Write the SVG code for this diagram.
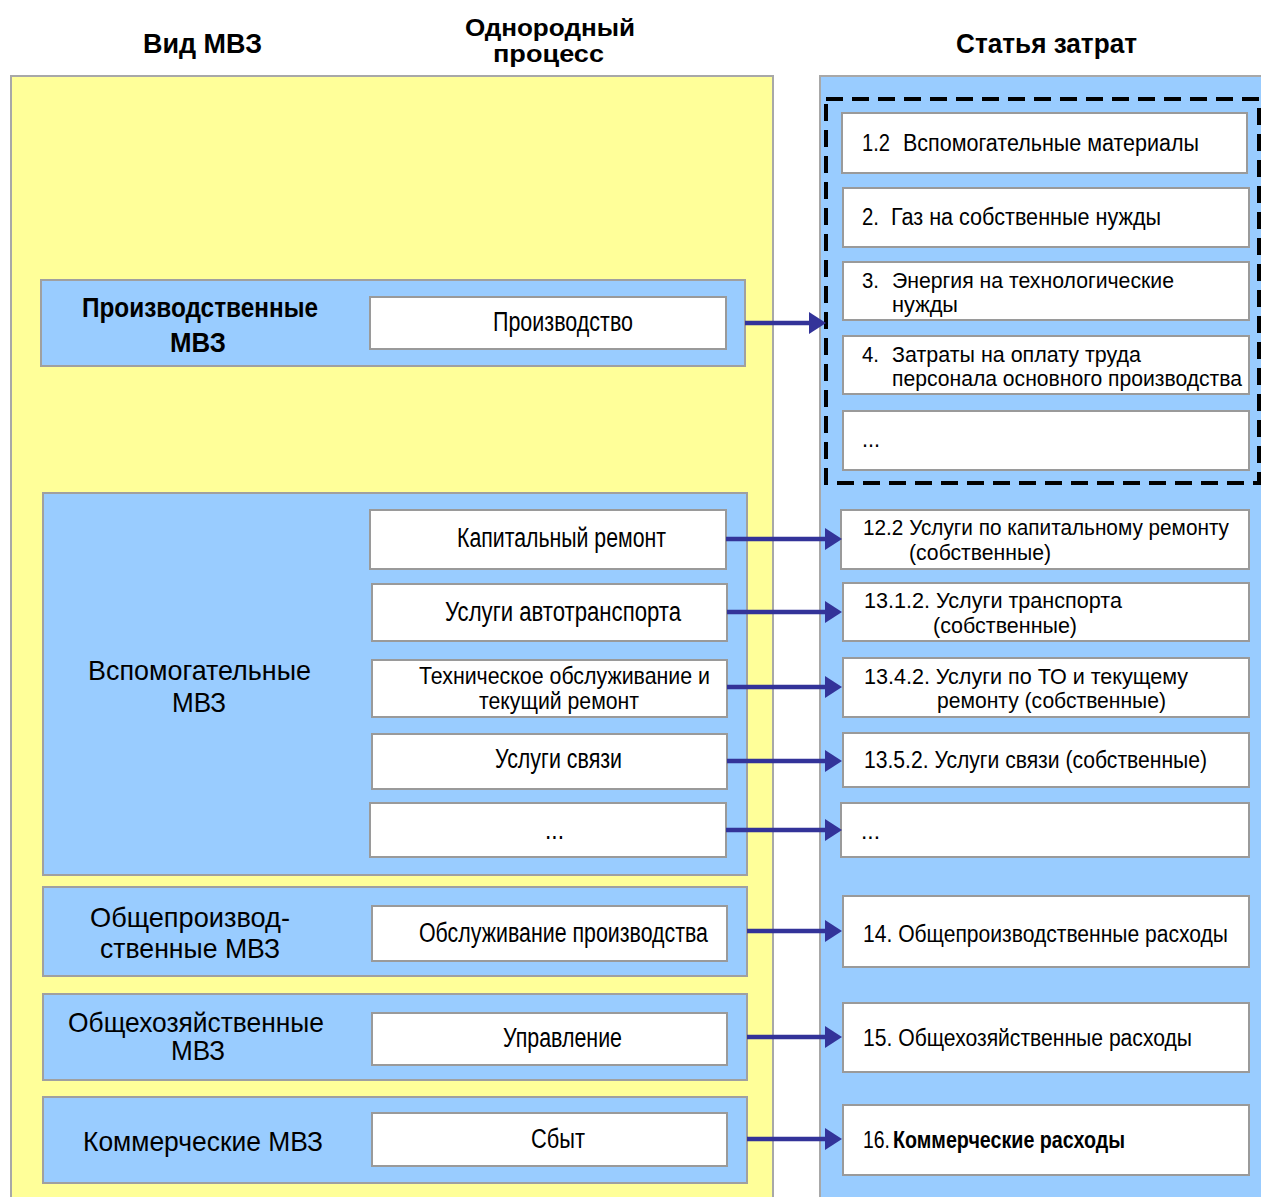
<svg xmlns="http://www.w3.org/2000/svg" width="1261" height="1197" viewBox="0 0 1261 1197">
<style>
text{font-family:"Liberation Sans",Arial,sans-serif;fill:#000}
.h{font-weight:bold;font-size:28px}
.h2{font-weight:bold;font-size:24px}
.lab{font-size:28px}
.in{font-size:27px}
.in2{font-size:24px}
.r{font-size:23px}
.r2{font-size:22px}
.grp{fill:#99CCFF;stroke:#a0a0a0;stroke-width:2}
.box{fill:#fff;stroke:#9a9a9a;stroke-width:2}
.con{stroke:#333399;stroke-width:4.5;fill:none}
</style>
<defs>
<marker id="ah" markerUnits="userSpaceOnUse" markerWidth="18" markerHeight="24" refX="0" refY="11" orient="auto">
<path d="M0,0 L17,11 L0,22 z" fill="#333399"/>
</marker>
</defs>
<rect width="1261" height="1197" fill="#fff"/>
<g id="headers">
<text class="h" x="143" y="53" textLength="119" lengthAdjust="spacingAndGlyphs">Вид МВЗ</text>
<text class="h2" x="465" y="36" textLength="170" lengthAdjust="spacingAndGlyphs">Однородный</text>
<text class="h2" x="493" y="62" textLength="111" lengthAdjust="spacingAndGlyphs">процесс</text>
<text class="h" x="956" y="53" textLength="181" lengthAdjust="spacingAndGlyphs">Статья затрат</text>
</g>
<g id="panels">
<rect x="11" y="76" width="762" height="1130" fill="#FFFF99" stroke="#a8a8a8" stroke-width="2"/>
<rect x="820" y="76" width="450" height="1130" fill="#99CCFF" stroke="#a8a8a8" stroke-width="2"/>
<rect x="826" y="99" width="433" height="384" fill="none" stroke="#000" stroke-width="4" stroke-dasharray="17 9"/>
</g>
<g id="mvz-prod">
<rect class="grp" x="41" y="280" width="704" height="86"/>
<text class="lab" style="font-weight:bold" x="82" y="317" textLength="236" lengthAdjust="spacingAndGlyphs">Производственные</text>
<text class="lab" style="font-weight:bold" x="170" y="352" textLength="56" lengthAdjust="spacingAndGlyphs">МВЗ</text>
</g>
<g id="proc-prod">
<rect class="box" x="370" y="297" width="356" height="52"/>
<text class="in" x="493" y="331" textLength="140" lengthAdjust="spacingAndGlyphs">Производство</text>
</g>
<g id="mvz-vspom">
<rect class="grp" x="43" y="493" width="704" height="382"/>
<text class="lab" x="88" y="680" textLength="223" lengthAdjust="spacingAndGlyphs">Вспомогательные</text>
<text class="lab" x="172" y="712" textLength="54" lengthAdjust="spacingAndGlyphs">МВЗ</text>
</g>
<g id="proc-kap">
<rect class="box" x="370" y="510" width="356" height="59"/>
<text class="in" x="457" y="547" textLength="209" lengthAdjust="spacingAndGlyphs">Капитальный ремонт</text>
</g>
<g id="proc-avto">
<rect class="box" x="372" y="584" width="355" height="57"/>
<text class="in" x="445" y="621" textLength="236" lengthAdjust="spacingAndGlyphs">Услуги  автотранспорта</text>
</g>
<g id="proc-to">
<rect class="box" x="372" y="660" width="355" height="57"/>
<text class="in2" x="419" y="684" textLength="291" lengthAdjust="spacingAndGlyphs">Техническое обслуживание и</text>
<text class="in2" x="479" y="709" textLength="160" lengthAdjust="spacingAndGlyphs">текущий ремонт</text>
</g>
<g id="proc-svyaz">
<rect class="box" x="372" y="734" width="355" height="55"/>
<text class="in" x="495" y="768" textLength="127" lengthAdjust="spacingAndGlyphs">Услуги связи</text>
</g>
<g id="proc-etc">
<rect class="box" x="370" y="803" width="356" height="54"/>
<text class="in" x="545" y="839" textLength="19" lengthAdjust="spacingAndGlyphs">...</text>
</g>
<g id="mvz-obschpr">
<rect class="grp" x="43" y="887" width="704" height="89"/>
<text class="lab" x="90" y="927" textLength="200" lengthAdjust="spacingAndGlyphs">Общепроизвод-</text>
<text class="lab" x="100" y="958" textLength="180" lengthAdjust="spacingAndGlyphs">ственные МВЗ</text>
</g>
<g id="proc-obsl">
<rect class="box" x="372" y="906" width="355" height="55"/>
<text class="in" x="419" y="942" textLength="289" lengthAdjust="spacingAndGlyphs">Обслуживание производства</text>
</g>
<g id="mvz-obschhoz">
<rect class="grp" x="43" y="994" width="704" height="86"/>
<text class="lab" x="68" y="1032" textLength="256" lengthAdjust="spacingAndGlyphs">Общехозяйственные</text>
<text class="lab" x="171" y="1060" textLength="54" lengthAdjust="spacingAndGlyphs">МВЗ</text>
</g>
<g id="proc-upr">
<rect class="box" x="372" y="1013" width="355" height="52"/>
<text class="in" x="503" y="1047" textLength="119" lengthAdjust="spacingAndGlyphs">Управление</text>
</g>
<g id="mvz-komm">
<rect class="grp" x="43" y="1097" width="704" height="86"/>
<text class="lab" x="83" y="1151" textLength="240" lengthAdjust="spacingAndGlyphs">Коммерческие МВЗ</text>
</g>
<g id="proc-sbyt">
<rect class="box" x="372" y="1113" width="355" height="53"/>
<text class="in" x="531" y="1148" textLength="54" lengthAdjust="spacingAndGlyphs">Сбыт</text>
</g>
<g id="cost-1-2">
<rect class="box" x="842" y="113" width="405" height="60"/>
<text class="r" x="862" y="151" textLength="28" lengthAdjust="spacingAndGlyphs">1.2</text>
<text class="r" x="903" y="151" textLength="296" lengthAdjust="spacingAndGlyphs">Вспомогательные материалы</text>
</g>
<g id="cost-2">
<rect class="box" x="843" y="188" width="406" height="59"/>
<text class="r" x="862" y="225" textLength="17" lengthAdjust="spacingAndGlyphs">2.</text>
<text class="r" x="891" y="225" textLength="270" lengthAdjust="spacingAndGlyphs">Газ на собственные нужды</text>
</g>
<g id="cost-3">
<rect class="box" x="843" y="262" width="406" height="58"/>
<text class="r2" x="862" y="288" textLength="17" lengthAdjust="spacingAndGlyphs">3.</text>
<text class="r2" x="892" y="288" textLength="282" lengthAdjust="spacingAndGlyphs">Энергия на технологические</text>
<text class="r2" x="892" y="312" textLength="66" lengthAdjust="spacingAndGlyphs">нужды</text>
</g>
<g id="cost-4">
<rect class="box" x="843" y="336" width="406" height="58"/>
<text class="r2" x="862" y="362" textLength="17" lengthAdjust="spacingAndGlyphs">4.</text>
<text class="r2" x="892" y="362" textLength="249" lengthAdjust="spacingAndGlyphs">Затраты на оплату труда</text>
<text class="r2" x="892" y="386" textLength="350" lengthAdjust="spacingAndGlyphs">персонала основного производства</text>
</g>
<g id="cost-etc1">
<rect class="box" x="843" y="411" width="406" height="59"/>
<text class="r" x="862" y="447" textLength="18" lengthAdjust="spacingAndGlyphs">...</text>
</g>
<g id="cost-12-2">
<rect class="box" x="841" y="510" width="408" height="59"/>
<text class="r2" x="863" y="535" textLength="366" lengthAdjust="spacingAndGlyphs">12.2 Услуги по капитальному ремонту</text>
<text class="r2" x="909" y="560" textLength="142" lengthAdjust="spacingAndGlyphs">(собственные)</text>
</g>
<g id="cost-13-1-2">
<rect class="box" x="843" y="583" width="406" height="58"/>
<text class="r2" x="864" y="608" textLength="258" lengthAdjust="spacingAndGlyphs">13.1.2. Услуги  транспорта</text>
<text class="r2" x="933" y="633" textLength="144" lengthAdjust="spacingAndGlyphs">(собственные)</text>
</g>
<g id="cost-13-4-2">
<rect class="box" x="843" y="658" width="406" height="59"/>
<text class="r2" x="864" y="684" textLength="324" lengthAdjust="spacingAndGlyphs">13.4.2. Услуги по ТО и  текущему</text>
<text class="r2" x="937" y="708" textLength="229" lengthAdjust="spacingAndGlyphs">ремонту (собственные)</text>
</g>
<g id="cost-13-5-2">
<rect class="box" x="843" y="733" width="406" height="54"/>
<text class="r" x="864" y="768" textLength="343" lengthAdjust="spacingAndGlyphs">13.5.2. Услуги связи (собственные)</text>
</g>
<g id="cost-etc2">
<rect class="box" x="841" y="803" width="408" height="54"/>
<text class="r" x="861" y="839" textLength="19" lengthAdjust="spacingAndGlyphs">...</text>
</g>
<g id="cost-14">
<rect class="box" x="843" y="896" width="406" height="71"/>
<text class="r" x="863" y="942" textLength="365" lengthAdjust="spacingAndGlyphs">14. Общепроизводственные расходы</text>
</g>
<g id="cost-15">
<rect class="box" x="843" y="1003" width="406" height="69"/>
<text class="r" x="863" y="1046" textLength="329" lengthAdjust="spacingAndGlyphs">15. Общехозяйственные расходы</text>
</g>
<g id="cost-16">
<rect class="box" x="843" y="1105" width="406" height="70"/>
<text class="r" x="863" y="1148" textLength="27" lengthAdjust="spacingAndGlyphs">16.</text>
<text class="r" style="font-weight:bold" x="893" y="1148" textLength="232" lengthAdjust="spacingAndGlyphs">Коммерческие расходы</text>
</g>
<g id="connectors">
<line class="con" x1="745" y1="323" x2="809" y2="323" marker-end="url(#ah)"/>
<line class="con" x1="726" y1="539" x2="825" y2="539" marker-end="url(#ah)"/>
<line class="con" x1="727" y1="612" x2="825" y2="612" marker-end="url(#ah)"/>
<line class="con" x1="727" y1="687" x2="825" y2="687" marker-end="url(#ah)"/>
<line class="con" x1="727" y1="761" x2="825" y2="761" marker-end="url(#ah)"/>
<line class="con" x1="726" y1="830" x2="825" y2="830" marker-end="url(#ah)"/>
<line class="con" x1="747" y1="931" x2="825" y2="931" marker-end="url(#ah)"/>
<line class="con" x1="747" y1="1037" x2="825" y2="1037" marker-end="url(#ah)"/>
<line class="con" x1="747" y1="1139" x2="825" y2="1139" marker-end="url(#ah)"/>
</g>
</svg>
